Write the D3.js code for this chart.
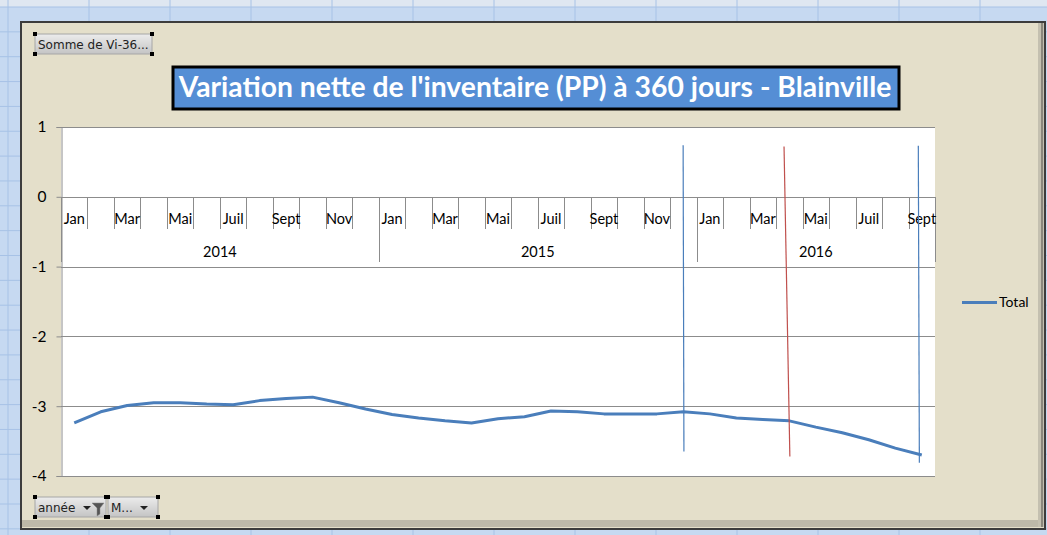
<!DOCTYPE html>
<html>
<head>
<meta charset="utf-8">
<script src="https://cdn.jsdelivr.net/npm/d3@7"></script>
<style>
  html, body { margin: 0; padding: 0; background: #c6d9f1; }
  svg { display: block; }
</style>
</head>
<body>
<div id="chart"></div>
<script>
// data
const years = ["2014", "2015", "2016"];
const monthsPerYear = [12, 12, 9];
const monthNames = ["Jan", "Févr", "Mar", "Avr", "Mai", "Juin", "Juil", "Août", "Sept", "Oct", "Nov", "Déc"];
const totalValues = [
  -3.24, -3.08, -2.99, -2.95, -2.95, -2.97, -2.98, -2.92, -2.89, -2.87, -2.95, -3.04,
  -3.12, -3.17, -3.21, -3.24, -3.18, -3.15, -3.07, -3.08, -3.11, -3.11, -3.11, -3.08,
  -3.11, -3.17, -3.19, -3.21, -3.30, -3.38, -3.48, -3.60, -3.70
];
const yTicks = [1, 0, -1, -2, -3, -4];
// hand drawn marker lines, in category index / value units
const markerStart = [[23.49, 0.74], [27.30, 0.72], [32.37, 0.73]];
const markerEnd = [[23.52, -3.65], [27.52, -3.72], [32.41, -3.81]];
const markerColors = ["#4a7ebb", "#c0504d", "#4a7ebb"];

const titleText = "Variation nette de l'inventaire (PP) à 360 jours - Blainville";
const font = "Lato, 'Open Sans', sans-serif";

const W = 1047, H = 535;
const svg = d3.select("#chart").append("svg").attr("width", W).attr("height", H);

// spreadsheet behind the chart
svg.append("rect").attr("width", W).attr("height", H).attr("fill", "#c6d9f1");
svg.append("rect").attr("width", W).attr("height", 7).attr("fill", "#dfe7f1");
svg.selectAll(".hgrid").data(d3.range(7, H, 24.85)).join("line")
  .attr("x1", 0).attr("x2", W).attr("y1", d => d).attr("y2", d => d)
  .attr("stroke", "#a7c2e6").attr("stroke-width", 1);
svg.selectAll(".vgrid").data(d3.range(8, W, 81)).join("line")
  .attr("x1", d => d).attr("x2", d => d).attr("y1", 0).attr("y2", H)
  .attr("stroke", "#a7c2e6").attr("stroke-width", 1);

// chart frame
svg.append("rect").attr("x", 21).attr("y", 22).attr("width", 1024).attr("height", 507)
  .attr("fill", "#e4dfca").attr("stroke", "#3c3c3c").attr("stroke-width", 2);
svg.append("rect").attr("x", 22).attr("y", 520).attr("width", 1022).attr("height", 7).attr("fill", "#bdb9a9");
svg.append("rect").attr("x", 1038).attr("y", 23).attr("width", 6).attr("height", 504).attr("fill", "#c4c0b0");
svg.append("line").attr("x1", 1042).attr("x2", 1042).attr("y1", 23).attr("y2", 527).attr("stroke", "#8a877c").attr("stroke-width", 2);

// scales
const nCat = d3.sum(monthsPerYear);
const x = d3.scaleLinear().domain([0, nCat]).range([61, 935]);
const y = d3.scaleLinear().domain([-4, 1]).range([476, 127]);

// plot area
svg.append("rect").attr("x", x(0)).attr("y", y(1))
  .attr("width", x(nCat) - x(0)).attr("height", y(-4) - y(1)).attr("fill", "#ffffff");

svg.selectAll(".gridline").data(yTicks).join("line")
  .attr("x1", x(0)).attr("x2", x(nCat))
  .attr("y1", d => Math.round(y(d)) + 0.5).attr("y2", d => Math.round(y(d)) + 0.5)
  .attr("stroke", "#8c8c8c").attr("stroke-width", 1);

const yAxis = svg.append("g").attr("transform", `translate(${x(0) + 0.5},0)`)
  .call(d3.axisLeft(y).tickValues(yTicks).tickSize(5).tickPadding(10).tickFormat(d => String(d)));
yAxis.select(".domain").attr("stroke", "#8c8c8c");
yAxis.selectAll(".tick line").attr("stroke", "#8c8c8c");
yAxis.selectAll(".tick text").attr("font-family", font).attr("font-size", 15.5).attr("fill", "#000");

// category axis (month / year levels)
const cats = [];
years.forEach((yr, yi) => {
  for (let m = 0; m < monthsPerYear[yi]; m++) cats.push({ year: yr, month: monthNames[m], m });
});
const yearStarts = [0];
monthsPerYear.forEach((n, i) => yearStarts.push(yearStarts[i] + n));

const y0 = Math.round(y(0));
svg.selectAll(".mtick").data(d3.range(0, nCat + 1)).join("line")
  .attr("x1", d => Math.round(x(d)) + 0.5).attr("x2", d => Math.round(x(d)) + 0.5)
  .attr("y1", y0).attr("y2", d => yearStarts.includes(d) ? y0 + 65 : y0 + 32)
  .attr("stroke", "#8c8c8c").attr("stroke-width", 1);

svg.selectAll(".mlabel").data(cats.map((c, i) => ({ ...c, i })).filter(c => c.m % 2 === 0)).join("text")
  .attr("x", d => x(d.i + 0.5)).attr("y", y0 + 27)
  .attr("text-anchor", "middle").attr("font-family", font).attr("font-size", 14.5).attr("fill", "#000")
  .text(d => d.month);

svg.selectAll(".ylabel").data(years).join("text")
  .attr("x", (d, i) => (x(yearStarts[i]) + x(yearStarts[i + 1])) / 2).attr("y", y0 + 60)
  .attr("text-anchor", "middle").attr("font-family", font).attr("font-size", 14.5).attr("fill", "#000")
  .text(d => d);

// series
const line = d3.line().x((d, i) => x(i + 0.5)).y(d => y(d));
svg.append("path").datum(totalValues).attr("d", line)
  .attr("fill", "none").attr("stroke", "#4a7ebb").attr("stroke-width", 3)
  .attr("stroke-linejoin", "round");

// marker lines
svg.selectAll(".marker").data(markerStart).join("line")
  .attr("x1", d => x(d[0])).attr("y1", d => y(d[1]))
  .attr("x2", (d, i) => x(markerEnd[i][0])).attr("y2", (d, i) => y(markerEnd[i][1]))
  .attr("stroke", (d, i) => markerColors[i]).attr("stroke-width", 1.2);

// legend
svg.append("line").attr("x1", 962).attr("x2", 997).attr("y1", 302.5).attr("y2", 302.5)
  .attr("stroke", "#4a7ebb").attr("stroke-width", 3);
svg.append("text").attr("x", 999).attr("y", 307).attr("font-family", font).attr("font-size", 14)
  .attr("fill", "#000").text("Total");

// title box
svg.append("rect").attr("x", 173).attr("y", 67).attr("width", 726).attr("height", 42)
  .attr("fill", "#558ed5").attr("stroke", "#000").attr("stroke-width", 3);
const title = svg.append("text").attr("x", 535).attr("y", 97).attr("text-anchor", "middle")
  .attr("font-family", font).attr("font-weight", "bold").attr("font-size", 25).attr("fill", "#fff")
  .text(titleText);
const tl = title.node().getComputedTextLength();
title.attr("font-size", 25 * 713 / tl);

// pivot field buttons
const btnGrad = svg.append("defs").append("linearGradient").attr("id", "btn").attr("x1", 0).attr("x2", 0).attr("y1", 0).attr("y2", 1);
btnGrad.append("stop").attr("offset", "0%").attr("stop-color", "#ececec");
btnGrad.append("stop").attr("offset", "100%").attr("stop-color", "#c4c4c4");

function button(bx, by, bw, bh, label) {
  svg.append("rect").attr("x", bx).attr("y", by).attr("width", bw).attr("height", bh).attr("rx", 2)
    .attr("fill", "url(#btn)").attr("stroke", "#a6a6a6");
  svg.append("text").attr("x", bx + 3).attr("y", by + bh - 5.5)
    .attr("font-family", "'DejaVu Sans', sans-serif").attr("font-size", 12).attr("fill", "#222")
    .text(label);
  [[bx, by], [bx + bw, by], [bx, by + bh], [bx + bw, by + bh]].forEach(([hx, hy]) => {
    svg.append("rect").attr("x", hx - 2).attr("y", hy - 2).attr("width", 4).attr("height", 4).attr("fill", "#000");
  });
}
function arrow(ax, ay) {
  svg.append("path").attr("d", `M${ax},${ay} l8,0 l-4,4 z`).attr("fill", "#222");
}

button(35, 34, 117, 20, "Somme de Vi-36...");
button(35, 497, 71, 20, "année");
arrow(83, 506);
svg.append("path").attr("d", "M92,503 l12,0 l-4,5 l0,6 l-3,2 l0,-8 z").attr("fill", "#555").attr("stroke", "#888").attr("stroke-width", 0.5);
button(108, 497, 50, 20, "M...");
arrow(140, 506);
</script>
</body>
</html>
